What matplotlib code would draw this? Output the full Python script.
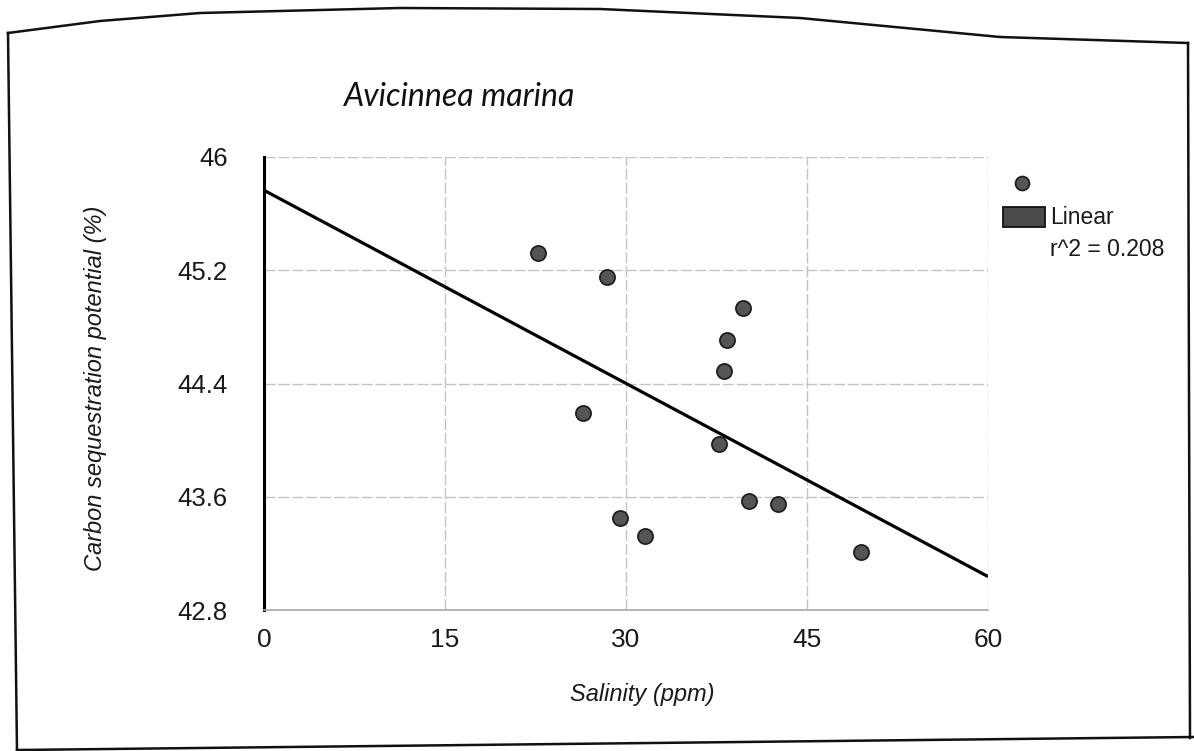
import numpy as np
import matplotlib
matplotlib.use('Agg')
import matplotlib.pyplot as plt
from matplotlib.lines import Line2D
from matplotlib.patches import Rectangle

# salinity (ppm) vs carbon sequestration potential (%) for Avicennia marina plots
SALINITY = [22.7, 28.4, 39.7, 38.4, 38.1, 26.4, 37.7, 40.2, 42.6, 29.5, 31.6, 49.5]
CARBON = [45.32, 45.15, 44.93, 44.71, 44.49, 44.19, 43.97, 43.57, 43.55, 43.45, 43.32, 43.21]
X_TICKS = [0, 15, 30, 45, 60]
Y_TICKS = [42.8, 43.6, 44.4, 45.2, 46]
Y_TICK_LABELS = ['42.8', '43.6', '44.4', '45.2', '46']
R2 = 0.208

W, H = 1194, 751
GRID = '#c4c4c4'


def fig_pt(x, y):
    # pixel position -> figure fraction
    return x / W, 1 - y / H


fig = plt.figure(figsize=(W / 100, H / 100), dpi=100)
fig.patch.set_facecolor('white')
ax = fig.add_axes([264 / W, 1 - 610 / H, 724 / W, 453 / H])

ax.set_xlim(0, 60)
ax.set_ylim(42.8, 46)

# linear fit
slope, icept = np.polyfit(SALINITY, CARBON, 1)
xs = np.array([0, 60])
ax.plot(xs, icept + slope * xs, color='black', lw=2.3, zorder=3, solid_capstyle='butt')

ax.scatter(SALINITY, CARBON, s=118, facecolor='#555555', edgecolor='#1e1e1e',
           linewidth=1.3, zorder=4)

ax.set_xticks(X_TICKS)
ax.set_yticks(Y_TICKS)
ax.set_yticklabels(Y_TICK_LABELS)
ax.grid(True, color=GRID, lw=1.0, linestyle=(0, (8, 2)))
ax.set_axisbelow(True)
ax.tick_params(length=0)
ax.tick_params(axis='x', pad=13)
ax.tick_params(axis='y', pad=26)
for lab in ax.get_xticklabels():
    lab.set_family('Liberation Sans')
    lab.set_fontsize(19)
    lab.set_color('#1a1a1a')
for lab in ax.get_yticklabels():
    lab.set_family('Liberation Sans')
    lab.set_fontsize(18.5)
    lab.set_color('#1a1a1a')

for side in ['top', 'right']:
    ax.spines[side].set_visible(False)
ax.spines['bottom'].set_color('#a8a8a8')
ax.spines['bottom'].set_linewidth(1.2)
ax.spines['left'].set_color('black')
ax.spines['left'].set_linewidth(2.2)

ax.set_xlabel('Salinity (ppm)', family='Liberation Sans', style='italic',
              fontsize=17, color='#1a1a1a')
ax.xaxis.set_label_coords(0.522, -0.162)
ax.set_ylabel('Carbon sequestration potential (%)', family='Liberation Sans',
              style='italic', fontsize=17, color='#1a1a1a')
ax.yaxis.set_label_coords(-0.217, 0.49)

# title
tx, ty = fig_pt(343, 97)
fig.text(tx, ty, 'Avicinnea marina', family='Lato', style='italic', fontsize=23,
         color='#111111', ha='left', va='center')

# legend
mx, my = fig_pt(1022, 183)
fig.add_artist(Line2D([mx], [my], marker='o', markersize=10, color='#555555',
                      markeredgecolor='#1e1e1e', markeredgewidth=1.3,
                      transform=fig.transFigure))
rx, ry = fig_pt(1003, 227)
fig.add_artist(Rectangle((rx, ry), 42 / W, 20 / H, facecolor='#4a4a4a',
                         edgecolor='#111111', lw=1.3, transform=fig.transFigure))
lx, ly = fig_pt(1050, 218)
fig.text(lx, ly, 'Linear', family='Liberation Sans', fontsize=16.5, color='#1a1a1a',
         ha='left', va='center')
lx, ly = fig_pt(1050, 250)
fig.text(lx, ly, f'r^2 = {R2:.3f}', family='Liberation Sans', fontsize=16.5,
         color='#1a1a1a', ha='left', va='center')

# page border
top = [(8, 33), (100, 21), (200, 13), (400, 8), (600, 9), (800, 18), (1000, 37), (1188, 43)]
edges = [
    top,
    [(8, 33), (17, 751)],
    [(1188, 43), (1190, 738)],
    [(17, 750), (1194, 737)],
]
for pts in edges:
    px = [fig_pt(x, y)[0] for x, y in pts]
    py = [fig_pt(x, y)[1] for x, y in pts]
    fig.add_artist(Line2D(px, py, color='#111111', lw=1.8, transform=fig.transFigure))

fig.savefig('out.png', dpi=100, facecolor='white')
